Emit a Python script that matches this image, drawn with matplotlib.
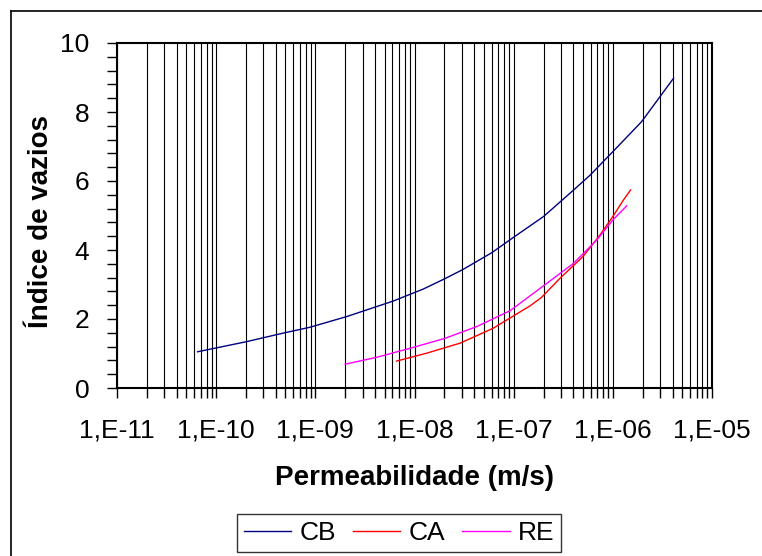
import numpy as np
import matplotlib
matplotlib.use('Agg')
from matplotlib import pyplot as plt
from matplotlib.ticker import FixedLocator, MultipleLocator, FixedFormatter, NullFormatter
from matplotlib.lines import Line2D

plt.rcParams['font.family'] = ['Liberation Sans', 'DejaVu Sans']

# permeabilidade (m/s) x indice de vazios
cb_k = [6.5e-11, 2.0e-10, 4.9e-10, 8.8e-10, 2.07e-9, 6.1e-9, 1.23e-8, 2.03e-8, 3.1e-8,
        6.0e-8, 1.0e-7, 2.0e-7, 3.85e-7, 5.9e-7, 1.0e-6, 1.95e-6, 4.1e-6]
cb_e = [1.05, 1.34, 1.60, 1.76, 2.07, 2.52, 2.87, 3.17, 3.44,
        3.92, 4.37, 4.97, 5.69, 6.17, 6.85, 7.72, 8.98]

ca_k = [6.6e-9, 1.33e-8, 2.88e-8, 6.2e-8, 1.46e-7, 1.9e-7, 2.93e-7, 5.0e-7, 7.4e-7,
        1.0e-6, 1.28e-6, 1.51e-6]
ca_e = [0.78, 1.01, 1.30, 1.73, 2.38, 2.62, 3.18, 3.81, 4.43, 4.97, 5.45, 5.74]

re_k = [2.0e-9, 4.16e-9, 9.0e-9, 2.03e-8, 4.24e-8, 9.2e-8, 2.15e-7, 4.0e-7,
        6.9e-7, 1.0e-6, 1.38e-6]
re_e = [0.69, 0.89, 1.15, 1.44, 1.78, 2.24, 3.03, 3.61, 4.29, 4.87, 5.28]

series = ['CB', 'CA', 'RE']
colors = ['#000080', '#FF0000', '#FF00FF']

x_ticks = [1e-11, 1e-10, 1e-9, 1e-8, 1e-7, 1e-6, 1e-5]
x_labels = ['1,E-11', '1,E-10', '1,E-09', '1,E-08', '1,E-07', '1,E-06', '1,E-05']
x_minor = [m * d for d in x_ticks[:-1] for m in range(2, 10)]

W, H = 762, 556
fig = plt.figure(figsize=(W / 100, H / 100), dpi=100)
ax = fig.add_axes([117 / W, 1 - 388 / H, 595 / W, 345 / H])

for k, e, name, c in zip([cb_k, ca_k, re_k], [cb_e, ca_e, re_e], series, colors):
    ax.plot(k, e, color=c, lw=1.0, label=name)

ax.set_xscale('log')
ax.set_xlim(1e-11, 1e-5)
ax.set_ylim(0, 10)

ax.xaxis.set_major_locator(FixedLocator(x_ticks))
ax.xaxis.set_major_formatter(FixedFormatter(x_labels))
ax.xaxis.set_minor_locator(FixedLocator(x_minor))
ax.xaxis.set_minor_formatter(NullFormatter())
ax.yaxis.set_major_locator(MultipleLocator(2))
ax.yaxis.set_minor_locator(MultipleLocator(0.4))

ax.grid(True, which='both', axis='x', color='black', lw=0.8)
ax.tick_params(which='both', direction='out', length=7, width=1, labelsize=19, colors='black')
ax.tick_params(axis='x', which='major', pad=15)
ax.tick_params(axis='y', which='major', pad=13)
for s in ax.spines.values():
    s.set_linewidth(1.5)

ax.set_xlabel('Permeabilidade (m/s)', fontsize=20, fontweight='bold', labelpad=16)
ax.set_ylabel('Índice de vazios', fontsize=20, fontweight='bold')
ax.yaxis.set_label_coords((54 - 117) / 595, (388 - 221) / 345)

leg = fig.legend(loc='center', bbox_to_anchor=(399 / W, 1 - 533 / H), ncol=3,
                 fontsize=19, frameon=True, fancybox=False, handlelength=1.8,
                 columnspacing=0.65, handletextpad=0.3, borderpad=0.25)
leg.get_frame().set_edgecolor('black')
leg.get_frame().set_linewidth(1.0)

# moldura do grafico
fig.add_artist(Line2D([11 / W, 11 / W], [0, 1 - 11 / H], transform=fig.transFigure, color='black', lw=1.2))
fig.add_artist(Line2D([11 / W, 1], [1 - 11 / H, 1 - 11 / H], transform=fig.transFigure, color='black', lw=1.2))

plt.savefig('out.png', dpi=100)
plt.close()
